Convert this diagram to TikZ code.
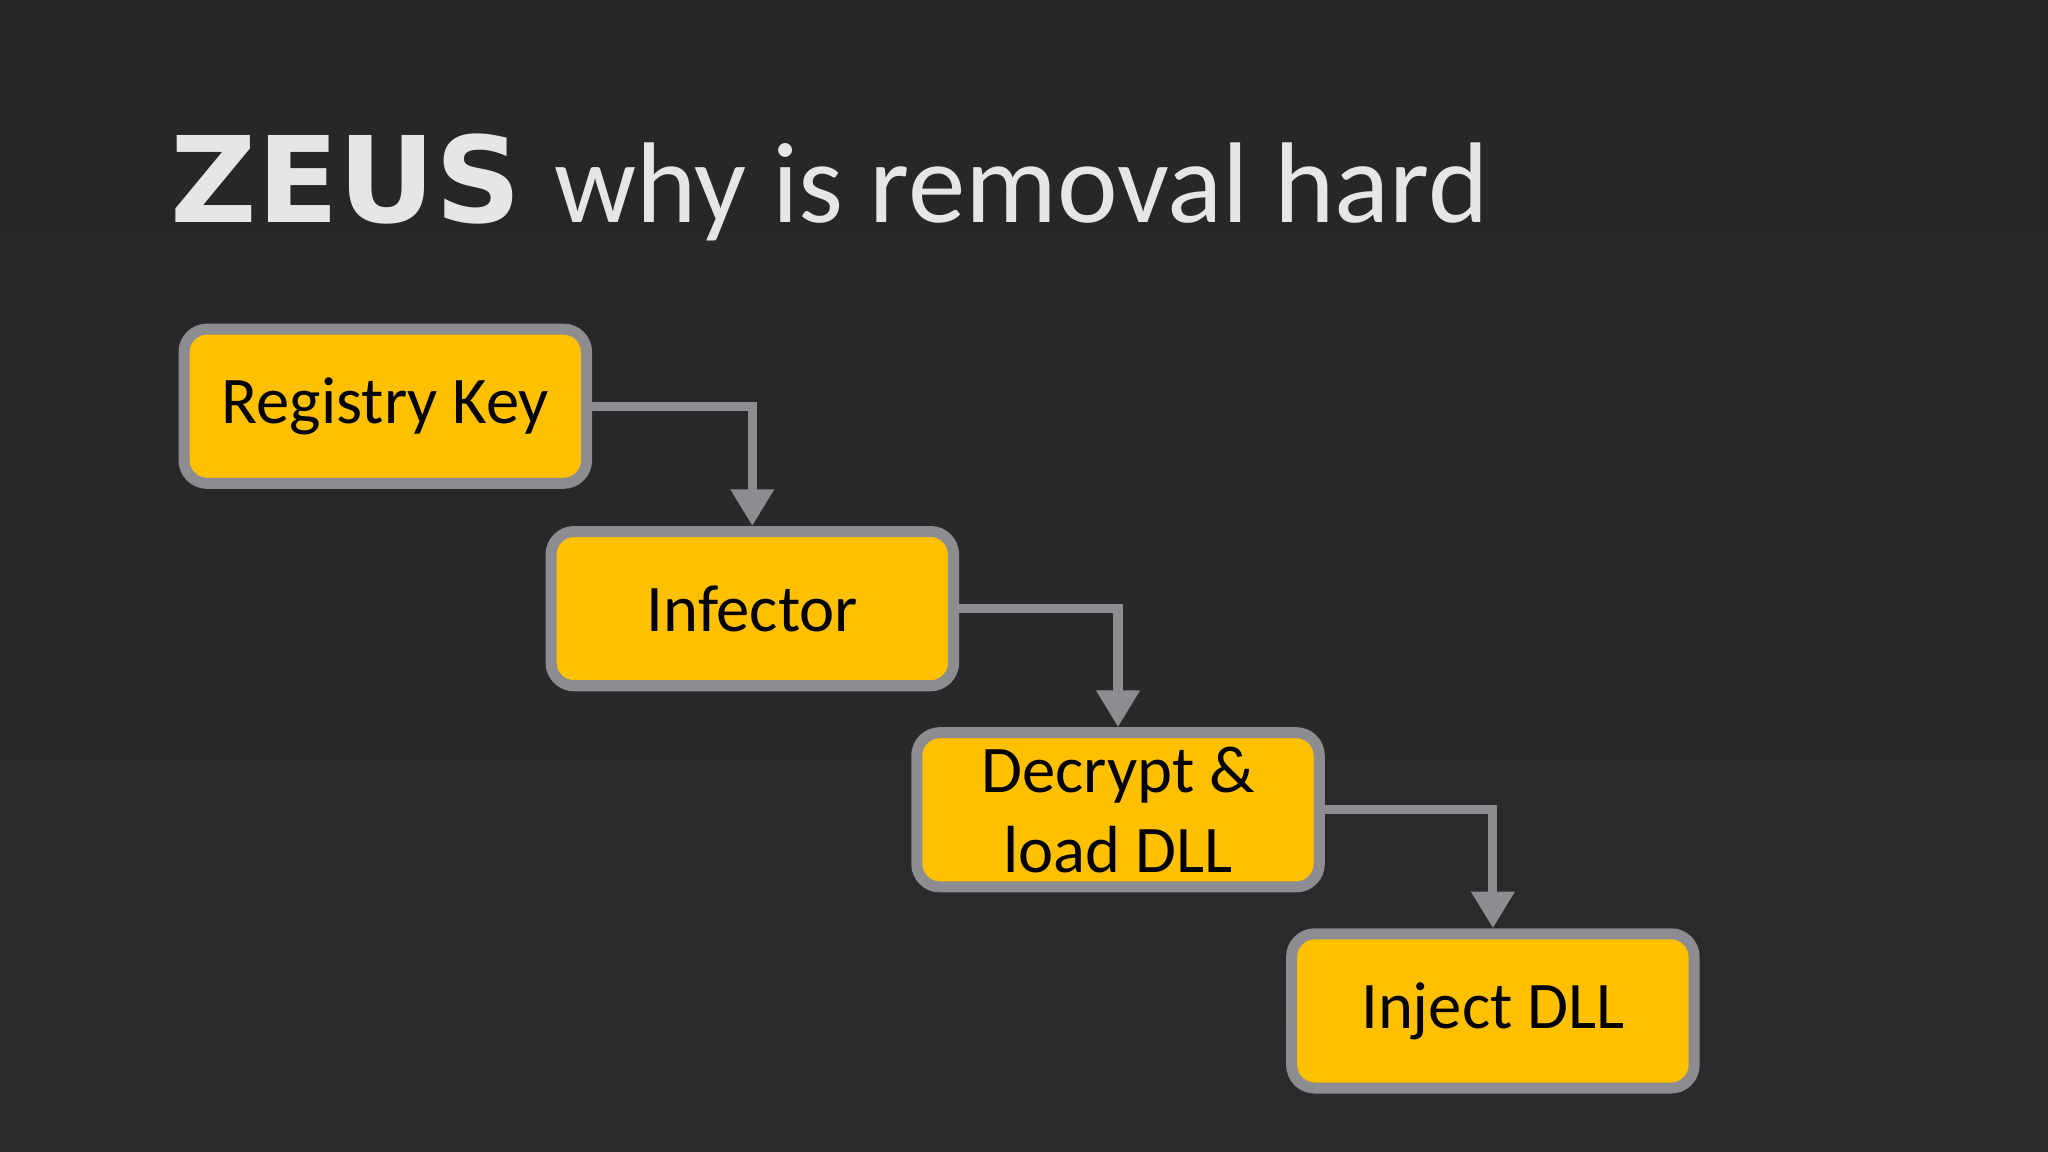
\documentclass[tikz,border=0pt]{standalone}
\usepackage{fontspec}
\setmainfont{Carlito}
\newfontfamily\titlebold{DejaVu Sans}
\usetikzlibrary{arrows.meta}
\definecolor{bgc}{HTML}{2B2A2C}
\definecolor{boxfill}{HTML}{FFC000}
\definecolor{boxline}{HTML}{8C8C91}
\definecolor{titlec}{HTML}{E6E6E6}
\tikzset{
  stepbox/.style={draw=boxline, line width=2.4pt, fill=boxfill, rounded corners=5pt,
    minimum width=3.08cm, minimum height=1.18cm,
    align=center, font=\fontsize{14.5}{17.5}\selectfont, text=black, inner sep=0pt},
  conn/.style={draw=boxline, line width=2pt, -{Triangle[length=8pt,width=9pt]}}
}
\begin{document}
\begin{tikzpicture}[x=0.01cm,y=-0.01cm]
\useasboundingbox (0,0) rectangle (1568,882);
\shade[top color=bgc!90!black, bottom color=bgc] (0,0) rectangle (1568,882);
\node[anchor=base west, inner sep=0pt, text=titlec] (title) at (130,170)
  {\titlebold\bfseries\fontsize{26}{30}\selectfont\hbox to 250\pgflinewidth{}\kern-250\pgflinewidth ZEUS\kern-2pt\ \normalfont\mdseries\fontsize{25}{30}\selectfont why is removal hard};
\node[stepbox] (a) at (295,311) {Registry Key};
\node[stepbox] (b) at (576,466) {Infector};
\node[stepbox] (c) at (856,620) {Decrypt \&\\load DLL};
\node[stepbox] (d) at (1143,774) {Inject DLL};
\draw[conn] (a.east) -| (b.north);
\draw[conn] (b.east) -| (c.north);
\draw[conn] (c.east) -| (d.north);
\end{tikzpicture}
\end{document}
